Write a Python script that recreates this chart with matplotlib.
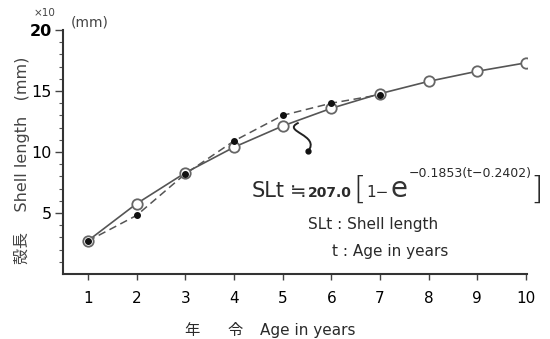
import numpy as np
import matplotlib
matplotlib.use("Agg")
import matplotlib.pyplot as plt
from matplotlib.path import Path
from matplotlib.patches import PathPatch

# shell length (x10 mm) by age
age = [1, 2, 3, 4, 5, 6, 7, 8, 9, 10]
fitted_len = [2.72, 5.76, 8.29, 10.39, 12.13, 13.58, 14.78, 15.79, 16.62, 17.31]
obs_age = [1, 2, 3, 4, 5, 6, 7]
obs_len = [2.7, 4.8, 8.2, 10.9, 13.0, 14.0, 14.7]
xticks = [1, 2, 3, 4, 5, 6, 7, 8, 9, 10]
yticks = [5, 10, 15, 20]

FAM = ["DejaVu Sans", "Noto Sans CJK JP"]
INK = "#2a2a2a"
plt.rcParams.update({"font.family": FAM, "text.color": INK})

W, H = 550, 339
fig = plt.figure(figsize=(W / 100, H / 100), dpi=100)
ax = fig.add_axes([63 / W, 1 - 274 / H, (527 - 63) / W, (274 - 30) / H])


def fx(px):
    return px / W


def fy(py):
    return 1 - py / H


# von Bertalanffy curve points and observed means
ax.plot(age, fitted_len, "-", color="#555", lw=1.2, zorder=2)
ax.plot(obs_age, obs_len, "--", color="#555", lw=1.1, dashes=(5, 3), zorder=2)
ax.plot(age, fitted_len, "o", ms=7.5, mfc="white", mec="#666", mew=1.3, zorder=3)
ax.plot(obs_age, obs_len, "o", ms=4, color="#111", zorder=4)

ax.set_xlim(0.49, 10.02)
ax.set_ylim(0, 20)
ax.set_xticks(xticks)
ax.set_yticks(yticks)
ax.set_yticks(np.arange(1, 20), minor=True)
ax.set_xticklabels([str(v) for v in xticks], fontsize=11)
ax.set_yticklabels([str(v) for v in yticks], fontsize=11.5)
ax.get_yticklabels()[-1].set_fontweight("bold")
for s in ("top", "right"):
    ax.spines[s].set_visible(False)
for s in ("left", "bottom"):
    ax.spines[s].set_color("#333")
    ax.spines[s].set_linewidth(1.5)
ax.tick_params(axis="x", length=4, width=1, color="#444", pad=8)
ax.tick_params(axis="y", which="major", length=6, width=1, color="#444", pad=2)
ax.tick_params(axis="y", which="minor", length=3, width=0.8, color="#555")

# squiggle pointing to the equation
verts = [(5.33, 12.4), (4.95, 11.7), (5.8, 11.4), (5.52, 10.05)]
squig = Path(verts, [Path.MOVETO, Path.CURVE4, Path.CURVE4, Path.CURVE4])
ax.add_patch(PathPatch(squig, fill=False, lw=1.4, ec="#222", zorder=3))
ax.plot(5.52, 10.05, "o", ms=3.5, color="#111", zorder=4)

# labels
fig.text(fx(22), fy(160), "殻長    Shell length   (mm)", rotation=90,
         ha="center", va="center", fontsize=11.5, color="#444")
fig.text(fx(45), fy(13), "×10", ha="center", va="center", fontsize=7.5, color="#444")
fig.text(fx(90), fy(22), "(mm)", ha="center", va="center", fontsize=10, color="#444")
fig.text(fx(192), fy(331), "年", ha="center", va="center", fontsize=11)
fig.text(fx(235), fy(331), "令", ha="center", va="center", fontsize=11)
fig.text(fx(260), fy(331), "Age in years", ha="left", va="center", fontsize=11)

# equation
fig.text(fx(252), fy(197), "SLt", fontsize=15, va="baseline")
fig.text(fx(290), fy(197), "≒", fontsize=14, va="baseline")
fig.text(fx(308), fy(197), "207.0", fontsize=10, fontweight="bold", va="baseline")
fig.text(fx(353), fy(199), "[", fontsize=23, fontweight="light", va="baseline")
fig.text(fx(366), fy(197), "1−", fontsize=11, va="baseline")
fig.text(fx(391), fy(197), "e", fontsize=20, va="baseline", color="#333")
fig.text(fx(409), fy(177), "−0.1853(t−0.2402)", fontsize=9, va="baseline")
fig.text(fx(530), fy(199), "]", fontsize=23, fontweight="light", va="baseline")
fig.text(fx(308), fy(229), "SLt : Shell length", fontsize=11, va="baseline")
fig.text(fx(332), fy(256), "t : Age in years", fontsize=11, va="baseline")

fig.savefig("out.png", dpi=100)
